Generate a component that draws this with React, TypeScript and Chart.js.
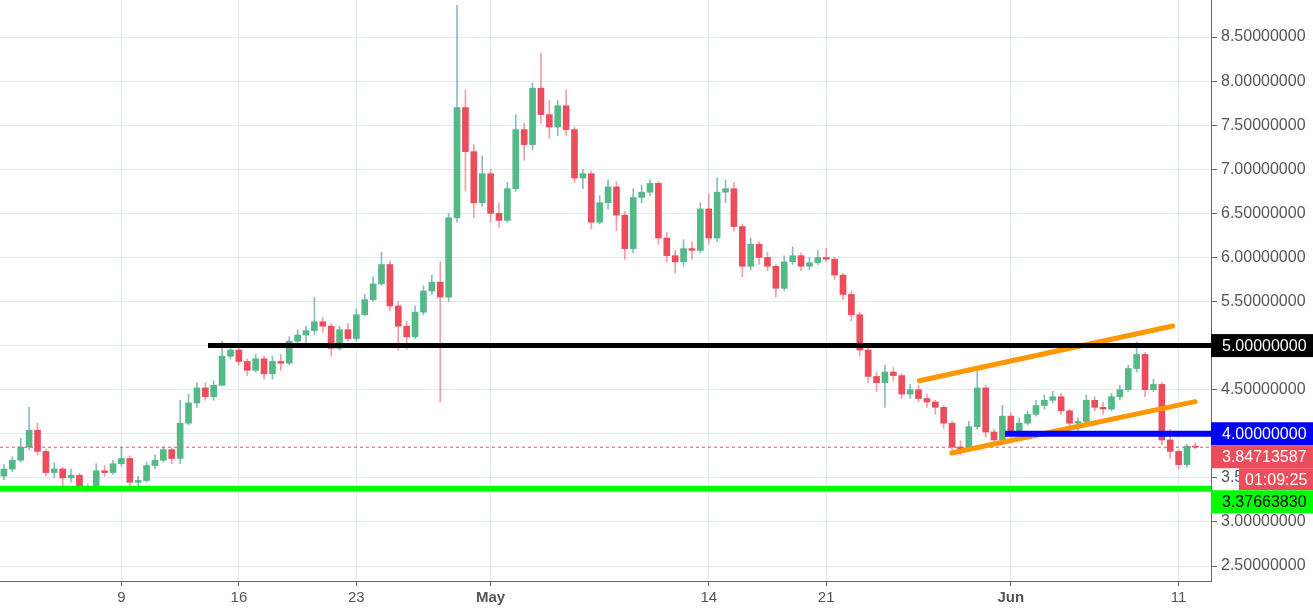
import React, { useEffect, useRef } from 'react';
import { Chart, registerables } from 'chart.js';

Chart.register(...registerables);

// 12h candles, first candle on Apr 2 00:00 (day 1 after Apr 1)
const firstCandleDay = 1;
const candleStepDays = 0.5;

const candleOpen = [
  3.52, 3.60, 3.70, 3.85, 4.04, 3.80, 3.56, 3.60, 3.50, 3.53,
  3.40, 3.39, 3.58, 3.56, 3.66, 3.72, 3.45, 3.47, 3.64, 3.70,
  3.82, 3.72, 4.12, 4.35, 4.52, 4.42, 4.55, 4.88, 4.95, 4.82,
  4.72, 4.85, 4.68, 4.82, 4.80, 5.05, 5.12, 5.17, 5.27, 5.22,
  4.97, 5.18, 5.08, 5.35, 5.52, 5.70, 5.92, 5.45, 5.22, 5.10,
  5.38, 5.62, 5.72, 5.55, 6.45, 7.70, 7.20, 6.62, 6.95, 6.50,
  6.42, 6.78, 7.45, 7.28, 7.92, 7.62, 7.48, 7.72, 7.45, 6.90,
  6.95, 6.40, 6.62, 6.80, 6.48, 6.10, 6.68, 6.74, 6.84, 6.22,
  6.02, 5.95, 6.10, 6.08, 6.55, 6.22, 6.74, 6.78, 6.35, 5.90,
  6.15, 6.00, 5.90, 5.65, 5.95, 6.02, 5.90, 5.94, 6.00, 5.98,
  5.80, 5.58, 5.35, 4.95, 4.65, 4.58, 4.70, 4.66, 4.45, 4.50,
  4.40, 4.36, 4.30, 4.12, 3.85, 3.82, 4.08, 4.52, 4.02, 3.93,
  4.20, 4.00, 4.12, 4.22, 4.32, 4.38, 4.42, 4.26, 4.12, 4.14,
  4.38, 4.30, 4.28, 4.42, 4.50, 4.74, 4.90, 4.50, 4.56, 3.93,
  3.80, 3.65, 3.86,
];
const candleHigh = [
  3.65, 3.74, 3.95, 4.30, 4.12, 3.82, 3.67, 3.62, 3.60, 3.55,
  3.43, 3.66, 3.64, 3.70, 3.84, 3.75, 3.52, 3.68, 3.76, 3.85,
  3.84, 4.38, 4.45, 4.58, 4.58, 4.60, 5.05, 5.02, 4.98, 4.85,
  4.90, 4.88, 4.88, 4.90, 5.10, 5.18, 5.22, 5.55, 5.32, 5.25,
  5.22, 5.25, 5.42, 5.58, 5.78, 6.06, 5.96, 5.50, 5.28, 5.45,
  5.68, 5.80, 5.95, 6.50, 8.86, 7.90, 7.28, 7.15, 7.00, 6.62,
  6.85, 7.62, 7.52, 7.98, 8.32, 7.78, 7.78, 7.90, 7.48, 7.00,
  6.98, 6.70, 6.88, 6.86, 6.52, 6.78, 6.82, 6.88, 6.86, 6.28,
  6.08, 6.20, 6.18, 6.62, 6.72, 6.90, 6.88, 6.85, 6.38, 6.22,
  6.18, 6.06, 5.92, 6.02, 6.12, 6.05, 6.00, 6.08, 6.10, 6.00,
  5.82, 5.62, 5.38, 4.98, 4.70, 4.78, 4.75, 4.68, 4.56, 4.55,
  4.45, 4.38, 4.32, 4.14, 3.92, 4.14, 4.72, 4.55, 4.05, 4.32,
  4.24, 4.18, 4.26, 4.38, 4.44, 4.48, 4.46, 4.28, 4.18, 4.44,
  4.42, 4.36, 4.46, 4.55, 4.78, 5.04, 4.92, 4.62, 4.58, 4.05,
  3.82, 3.88, 3.90,
];
const candleLow = [
  3.48, 3.57, 3.68, 3.82, 3.76, 3.52, 3.50, 3.36, 3.45, 3.36,
  3.34, 3.37, 3.52, 3.54, 3.63, 3.41, 3.40, 3.45, 3.60, 3.68,
  3.66, 3.66, 4.10, 4.30, 4.38, 4.38, 4.55, 4.85, 4.78, 4.66,
  4.70, 4.62, 4.62, 4.72, 4.78, 5.02, 5.00, 5.12, 5.15, 4.88,
  4.95, 5.05, 5.05, 5.34, 5.50, 5.68, 5.40, 4.95, 4.96, 5.08,
  5.35, 5.58, 4.36, 5.50, 6.40, 6.75, 6.45, 6.58, 6.40, 6.34,
  6.40, 6.75, 7.10, 7.22, 7.52, 7.35, 7.38, 7.38, 6.85, 6.78,
  6.32, 6.38, 6.55, 6.30, 5.98, 6.05, 6.62, 6.70, 6.15, 5.95,
  5.82, 5.90, 5.98, 6.05, 6.15, 6.18, 6.62, 6.30, 5.78, 5.86,
  5.92, 5.85, 5.55, 5.62, 5.92, 5.85, 5.86, 5.92, 5.95, 5.75,
  5.52, 5.28, 4.88, 4.58, 4.48, 4.30, 4.60, 4.40, 4.40, 4.36,
  4.30, 4.22, 4.06, 3.80, 3.76, 3.80, 4.05, 3.96, 3.88, 3.90,
  3.95, 3.96, 4.10, 4.20, 4.28, 4.35, 4.22, 4.08, 4.02, 4.10,
  4.26, 4.22, 4.26, 4.38, 4.48, 4.70, 4.42, 4.48, 3.88, 3.72,
  3.60, 3.62, 3.83,
];
const candleClose = [
  3.60, 3.70, 3.85, 4.04, 3.80, 3.56, 3.60, 3.50, 3.53, 3.40,
  3.39, 3.58, 3.56, 3.66, 3.72, 3.45, 3.47, 3.64, 3.70, 3.82,
  3.72, 4.12, 4.35, 4.52, 4.42, 4.55, 4.88, 4.95, 4.82, 4.72,
  4.85, 4.68, 4.82, 4.80, 5.05, 5.12, 5.17, 5.27, 5.22, 4.97,
  5.18, 5.08, 5.35, 5.52, 5.70, 5.92, 5.45, 5.22, 5.10, 5.38,
  5.62, 5.72, 5.55, 6.45, 7.70, 7.20, 6.62, 6.95, 6.50, 6.42,
  6.78, 7.45, 7.28, 7.92, 7.62, 7.48, 7.72, 7.45, 6.90, 6.95,
  6.40, 6.62, 6.80, 6.48, 6.10, 6.68, 6.74, 6.84, 6.22, 6.02,
  5.95, 6.10, 6.08, 6.55, 6.22, 6.74, 6.78, 6.35, 5.90, 6.15,
  6.00, 5.90, 5.65, 5.95, 6.02, 5.90, 5.94, 6.00, 5.98, 5.80,
  5.58, 5.35, 4.95, 4.65, 4.58, 4.70, 4.66, 4.45, 4.50, 4.40,
  4.36, 4.30, 4.12, 3.85, 3.82, 4.08, 4.52, 4.02, 3.93, 4.20,
  4.00, 4.12, 4.22, 4.32, 4.38, 4.42, 4.26, 4.12, 4.14, 4.38,
  4.30, 4.28, 4.42, 4.50, 4.74, 4.90, 4.50, 4.56, 3.93, 3.80,
  3.65, 3.86, 3.84713587,
];

// x axis: days after Apr 1
const xMinDay = 0.765;
const xMaxDay = 72.93;
const xTickDays = [8, 15, 22, 30, 43, 50, 61, 71];
const xTickLabels = ['9', '16', '23', 'May', '14', '21', 'Jun', '11'];
const monthLabels = ['May', 'Jun'];

const yMin = 2.33;
const yMax = 8.92;
const yTickValues = [2.5, 3, 3.5, 4, 4.5, 5, 5.5, 6, 6.5, 7, 7.5, 8, 8.5];

// drawn levels
const resistanceLevel = 5.0;
const resistanceStartDay = 13.16;
const supportLevel = 3.3766383;
const blueLevel = 4.0;
const blueStartDay = 60.66;
const lastPrice = 3.84713587;
const countdownText = '01:09:25';
const channelUpperDays = [55.55, 70.65];
const channelUpperValues = [4.602, 5.222];
const channelLowerDays = [57.48, 71.98];
const channelLowerValues = [3.782, 4.364];

const priceTags = [
  { value: resistanceLevel, text: '5.00000000', bg: '#000000', fg: '#ffffff', sub: '' },
  { value: blueLevel, text: '4.00000000', bg: '#0000ff', fg: '#ffffff', sub: '' },
  { value: lastPrice, text: '3.84713587', bg: '#eb4d5c', fg: '#ffffff', sub: countdownText },
  { value: supportLevel, text: '3.37663830', bg: '#00ff00', fg: '#000000', sub: '' },
];

const UP = '#53b987';
const DOWN = '#eb4d5c';
const UP_WICK = 'rgba(105,160,175,0.75)';
const DOWN_WICK = 'rgba(235,77,92,0.55)';
const FONT = '"Liberation Sans", Arial, sans-serif';

const tagPlugin = {
  id: 'priceTags',
  afterDraw(chart: any) {
    const { ctx, chartArea } = chart;
    const y = chart.scales.y;
    const left = chartArea.right;
    const right = chart.width;
    const h = 23;
    let prevBottom = -Infinity;
    ctx.save();
    ctx.font = `16px ${FONT}`;
    ctx.textBaseline = 'middle';
    ctx.textAlign = 'left';
    for (const tag of priceTags) {
      const top = Math.max(y.getPixelForValue(tag.value) - h / 2, prevBottom);
      ctx.fillStyle = tag.bg;
      ctx.fillRect(left, top, right - left, h);
      ctx.fillStyle = tag.fg;
      ctx.fillText(tag.text, left + 11, top + h / 2 + 1);
      prevBottom = top + h;
      if (tag.sub) {
        const sh = 22;
        const sx = left + 28;
        ctx.fillStyle = tag.bg;
        ctx.fillRect(sx, prevBottom, right - sx, sh);
        ctx.fillStyle = tag.fg;
        ctx.fillText(tag.sub, sx + 6, prevBottom + sh / 2 + 1);
        prevBottom += sh;
      }
    }
    ctx.restore();
  },
};

export default function App() {
  const ref = useRef<HTMLCanvasElement>(null);

  useEffect(() => {
    const days = candleClose.map((_, i) => firstCandleDay + i * candleStepDays);
    const isUp = candleClose.map((c, i) => c >= candleOpen[i]);

    const bodies = days.map((d, i) => ({ x: d, y: [candleOpen[i], candleClose[i]] }));
    const wicks = days.map((d, i) => ({ x: d, y: [candleLow[i], candleHigh[i]] }));

    const lineDs = (pts: { x: number; y: number }[], color: string, width: number, extra: any = {}) => ({
      type: 'line' as const,
      data: pts,
      borderColor: color,
      borderWidth: width,
      pointRadius: 0,
      fill: false,
      order: 0,
      ...extra,
    });

    const chart = new Chart(ref.current as HTMLCanvasElement, {
      type: 'bar',
      data: {
        datasets: [
          lineDs([{ x: xMinDay, y: lastPrice }, { x: xMaxDay, y: lastPrice }], '#f0505e', 1, { borderDash: [3, 3], order: 1 }),
          lineDs([{ x: xMinDay, y: supportLevel }, { x: xMaxDay, y: supportLevel }], '#00ff00', 6),
          lineDs([{ x: resistanceStartDay, y: resistanceLevel }, { x: xMaxDay, y: resistanceLevel }], '#000000', 5),
          lineDs([{ x: blueStartDay, y: blueLevel }, { x: xMaxDay, y: blueLevel }], '#0000ff', 6),
          lineDs(channelUpperDays.map((d, i) => ({ x: d, y: channelUpperValues[i] })), '#ff9800', 5, { borderCapStyle: 'round' }),
          lineDs(channelLowerDays.map((d, i) => ({ x: d, y: channelLowerValues[i] })), '#ff9800', 5, { borderCapStyle: 'round' }),
          {
            type: 'bar',
            data: bodies as any,
            backgroundColor: isUp.map((u) => (u ? UP : DOWN)),
            barThickness: 6,
            minBarLength: 1,
            grouped: false,
            order: 2,
          } as any,
          {
            type: 'bar',
            data: wicks as any,
            backgroundColor: isUp.map((u) => (u ? UP_WICK : DOWN_WICK)),
            barThickness: 1,
            grouped: false,
            order: 3,
          } as any,
        ],
      },
      options: {
        animation: false,
        responsive: false,
        maintainAspectRatio: false,
        layout: { padding: 0 },
        plugins: { legend: { display: false }, tooltip: { enabled: false } },
        scales: {
          x: {
            type: 'linear',
            position: 'bottom',
            min: xMinDay,
            max: xMaxDay,
            offset: false,
            afterBuildTicks: (s: any) => {
              s.ticks = xTickDays.map((v) => ({ value: v }));
            },
            afterFit: (s: any) => {
              s.height = 30;
              s.paddingLeft = 0;
              s.paddingRight = 0;
            },
            ticks: {
              autoSkip: false,
              maxRotation: 0,
              padding: 3,
              color: '#555',
              callback: (_v: any, i: number) => xTickLabels[i],
              font: (c: any) => ({
                family: FONT,
                size: 15,
                weight: monthLabels.includes(xTickLabels[c.index]) ? 'bold' : 'normal',
              }),
            },
            grid: { color: '#e1ebf1', offset: false, tickLength: 5, tickColor: '#666' },
            border: { color: '#666', width: 1 },
          },
          y: {
            type: 'linear',
            position: 'right',
            min: yMin,
            max: yMax,
            afterBuildTicks: (s: any) => {
              s.ticks = yTickValues.map((v) => ({ value: v }));
            },
            afterFit: (s: any) => {
              s.width = 102;
              s.paddingTop = 0;
              s.paddingBottom = 0;
            },
            ticks: {
              padding: 4,
              color: '#555',
              font: { family: FONT, size: 16 },
              callback: (v: any) => Number(v).toFixed(8),
            },
            grid: { color: '#e1ebf1', tickLength: 6, tickColor: '#666' },
            border: { color: '#666', width: 1 },
          },
        },
      } as any,
      plugins: [tagPlugin],
    });
    return () => chart.destroy();
  }, []);

  return (
    <div style={{ position: 'fixed', left: 0, top: 0, width: 1313, height: 611, background: '#fff' }}>
      <canvas ref={ref} width={1313} height={611} style={{ display: 'block', width: 1313, height: 611 }} />
    </div>
  );
}
